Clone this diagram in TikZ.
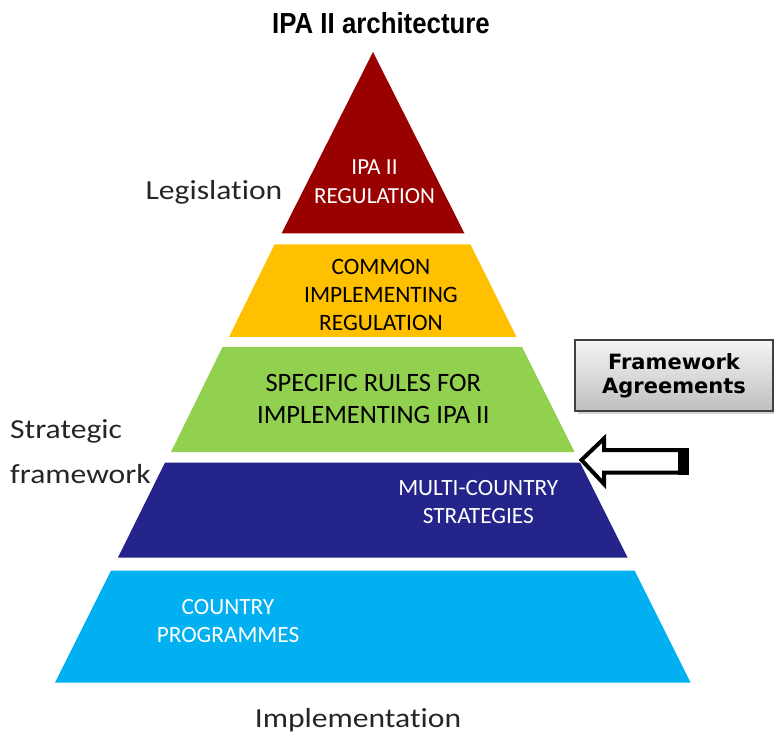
\documentclass[tikz,border=0pt]{standalone}
\usepackage{fontspec}
\setmainfont{Carlito}
\newfontfamily\titlefont{Liberation Sans}[FakeStretch=0.89]
\newfontfamily\sidefont{Carlito}[FakeStretch=1.15, Ligatures=CommonOff]
\newfontfamily\boxfont{DejaVu Sans}
\usetikzlibrary{shadows}
\definecolor{tierred}{RGB}{153,0,0}
\definecolor{tieryellow}{RGB}{255,192,0}
\definecolor{tiergreen}{RGB}{146,208,80}
\definecolor{tiernavy}{RGB}{36,36,138}
\definecolor{tiercyan}{RGB}{0,176,240}
\begin{document}
\begin{tikzpicture}[x=1pt,y=-1pt,
    tiertext/.style={align=center, inner sep=0pt},
    sidetext/.style={inner sep=0pt, text=black!85, font=\sidefont\fontsize{27.5}{45}\selectfont},
    fwbox/.style={draw=black!75, line width=1.5pt, top color=black!4, bottom color=black!25,
      minimum width=198pt, minimum height=71pt, inner sep=0pt, align=center,
      drop shadow={shadow xshift=3pt, shadow yshift=-3pt, opacity=0.35},
      font=\boxfont\bfseries\fontsize{21}{24}\selectfont}]
  \useasboundingbox (0,0) rectangle (774,735);
  \node[anchor=base, inner sep=0pt, font=\titlefont\bfseries\fontsize{29}{34}\selectfont] (title) at (381,33.3) {IPA II architecture};
  \fill[tierred] (373,52) -- (281.5,233.5) -- (464.5,233.5) -- cycle;
  \fill[tieryellow] (274.5,244.5) -- (470.5,244.5) -- (516.5,337) -- (229,337) -- cycle;
  \fill[tiergreen] (222.5,347) -- (522,347) -- (574.5,452) -- (171,452) -- cycle;
  \fill[tiernavy] (165,462.5) -- (580,462.5) -- (627.5,557.5) -- (118,557.5) -- cycle;
  \fill[tiercyan] (111,570.5) -- (634.5,570.5) -- (690.5,682.5) -- (55,682.5) -- cycle;
  \node[tiertext, text=white, font=\fontsize{23}{29}\selectfont] (reg) at (374.5,182) {IPA II\\REGULATION};
  \node[tiertext, font=\fontsize{23.5}{28.3}\selectfont] (cir) at (381,295) {COMMON\\IMPLEMENTING\\REGULATION};
  \node[tiertext, font=\fontsize{26.5}{31.7}\selectfont] (rules) at (373.3,398.7) {SPECIFIC RULES FOR\\IMPLEMENTING IPA II};
  \node[tiertext, text=white, font=\fontsize{23.3}{28.3}\selectfont] (mcs) at (478.3,501.7) {MULTI-COUNTRY\\STRATEGIES};
  \node[tiertext, text=white, font=\fontsize{23.3}{28.4}\selectfont] (cp) at (228,621) {COUNTRY\\PROGRAMMES};
  \node[sidetext, anchor=base] (legis) at (214,200) {Legislation};
  \node[sidetext, anchor=north west, align=left] (strat) at (10,419.5) {Strategic\\framework};
  \node[sidetext, anchor=base] (impl) at (358,727.5) {Implementation};
  \node[fwbox] (fw) at (674,375.5) {Framework\\Agreements};
  \coordinate (arrowtip) at (581.5,460);
  \draw[line width=4pt, fill=white, line join=miter] (arrowtip) -- ++(22.5,-21.5) -- ++(0,11.5) -- ++(82,0)
    -- ++(0,22.5) -- ++(-82,0) -- ++(0,11.5) -- cycle;
  \fill (678,447.5) rectangle (688.5,474.5);
\end{tikzpicture}
\end{document}
